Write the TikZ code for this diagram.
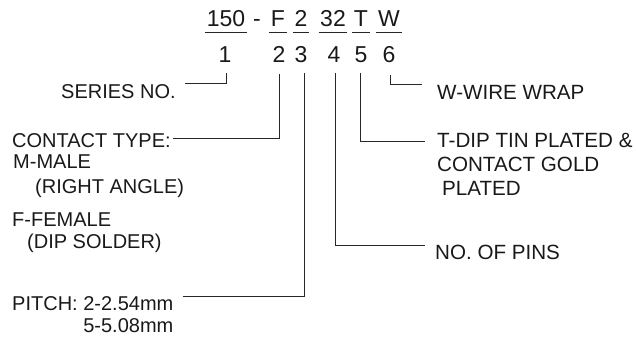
\documentclass[tikz,border=0pt]{standalone}
\usepackage{fontspec}
\setmainfont{Liberation Sans}
\begin{document}
\begin{tikzpicture}[x=1pt,y=-1pt,
  big/.style={inner sep=0pt,font=\fontsize{23}{27}\selectfont,text=black!90},
  lbl/.style={inner sep=0pt,font=\fontsize{20}{24}\selectfont,text=black!90},
  rlbl/.style={inner sep=0pt,font=\fontsize{20.6}{24}\selectfont,text=black!90},
  conn/.style={line width=0.9pt,black!85},
  ul/.style={line width=0.9pt,black!85}]
\useasboundingbox (0,0) rectangle (636,337);
% code line
\node[big,anchor=base] (n150) at (226,27) {150};
\node[big,anchor=base] (dash) at (257,27) {-};
\node[big,anchor=base] (nF) at (278,27) {F};
\node[big,anchor=base] (n2) at (301,27) {2};
\node[big,anchor=base] (n32) at (333,27) {32};
\node[big,anchor=base] (nT) at (361,27) {T};
\node[big,anchor=base] (nW) at (389,27) {W};
\foreach \n in {n150,nF,n2,n32,nT,nW}
  \draw[ul] ([xshift=-1.5pt,yshift=-5pt]\n.base west) -- ([xshift=1.5pt,yshift=-5pt]\n.base east);
% position numbers
\node[big,anchor=base] (d1) at (225,62) {1};
\node[big,anchor=base] (d2) at (279,62) {2};
\node[big,anchor=base] (d3) at (301,62) {3};
\node[big,anchor=base] (d4) at (334,62) {4};
\node[big,anchor=base] (d5) at (361,62) {5};
\node[big,anchor=base] (d6) at (389,62) {6};
% left labels
\node[lbl,anchor=base west] (series) at (61,98) {SERIES NO.};
\node[lbl,anchor=base west] (ctype) at (12,147) {CONTACT TYPE:};
\node[lbl,anchor=base west] (mmale) at (13,168) {M-MALE};
\node[lbl,anchor=base west] (rangle) at (35,193) {(RIGHT ANGLE)};
\node[lbl,anchor=base west] (ffem) at (12,226) {F-FEMALE};
\node[lbl,anchor=base west] (dips) at (27,248) {(DIP SOLDER)};
\node[lbl,anchor=base west] (pitch) at (12,310) {PITCH: 2-2.54mm};
\node[lbl,anchor=base east] (pitchb) at ([yshift=-22pt]pitch.base east) {5-5.08mm};
% right labels
\node[rlbl,anchor=base west] (wire) at (437,99) {W-WIRE WRAP};
\node[rlbl,anchor=base west] (tdip) at (437,147) {T-DIP TIN PLATED \&};
\node[rlbl,anchor=base west] (cgold) at (437,171) {CONTACT GOLD};
\node[rlbl,anchor=base west] (plated) at (442,195) {PLATED};
\node[rlbl,anchor=base west] (pins) at (435,259) {NO. OF PINS};
% connector ends
\coordinate (e1) at (185,83);
\coordinate (e2) at (173,138);
\coordinate (e3) at (183,296);
\coordinate (e4) at (425,245);
\coordinate (e5) at (425,141);
\coordinate (e6) at (422,84);
% connectors
\draw[conn] ([xshift=1pt,yshift=-11pt]d1.south) |- (e1);
\draw[conn] ([yshift=-12pt]d2.south) |- (e2);
\draw[conn] ([xshift=3pt,yshift=-11pt]d3.south) |- (e3);
\draw[conn] ([xshift=1pt,yshift=-11pt]d4.south) |- (e4);
\draw[conn] ([xshift=-1pt,yshift=-11pt]d5.south) |- (e5);
\draw[conn] ([xshift=1pt,yshift=-13pt]d6.south) |- (e6);
\end{tikzpicture}
\end{document}
